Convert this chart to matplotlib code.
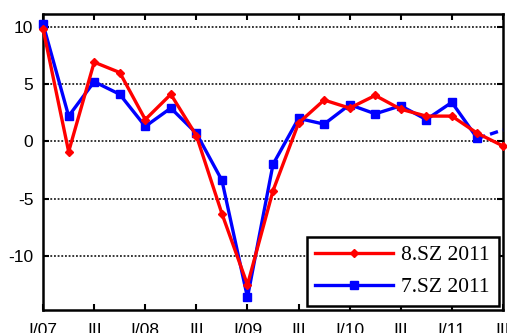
import matplotlib
matplotlib.use("Agg")
import matplotlib.pyplot as plt

plt.rcParams["axes.unicode_minus"] = False

# quarterly values, I/07 .. III/11
kwartaly = list(range(19))
sz8 = [9.8, -0.9, 6.9, 6.0, 1.9, 4.1, 0.5, -6.3, -12.5, -4.3, 1.6, 3.6, 2.9, 4.0, 2.8, 2.2, 2.2, 0.7, -0.4]
sz7 = [10.2, 2.2, 5.2, 4.1, 1.3, 2.9, 0.7, -3.4, -13.6, -2.0, 2.0, 1.5, 3.2, 2.4, 3.1, 1.9, 3.4, 0.25]
sz7_prognoza = [0.25, 1.0]  # dashed part, II/11 -> III/11

etykiety = ["I/07", "III", "I/08", "III", "I/09", "III", "I/10", "III", "I/11", "III"]

fig = plt.figure(figsize=(5.07, 3.33), dpi=100)
ax = fig.add_axes([0.085, 0.069, 0.907, 0.889])

ax.plot(kwartaly[:len(sz7)], sz7, color="#0000ff", lw=2.4, marker="s", ms=6,
        clip_on=False, zorder=3, label="7.SZ 2011")
ax.plot(kwartaly[len(sz7) - 1:], sz7_prognoza, color="#0000ff", lw=2.4, ls=(0, (2.5, 1.5)),
        clip_on=False, zorder=3)
ax.plot(kwartaly, sz8, color="#ff0000", lw=2.4, marker="D", ms=4.5,
        clip_on=False, zorder=4, label="8.SZ 2011")

ax.set_xlim(0, 18)
ax.set_ylim(-14.7, 11.1)
ax.set_xticks(kwartaly[::2])
ax.set_xticklabels(etykiety)
ax.set_yticks([-10, -5, 0, 5, 10])
ax.yaxis.grid(True, color="black", ls=(0, (1.2, 1.2)), lw=1.1)

ax.tick_params(direction="in", top=True, right=True, length=4, width=1.5, labelsize=12.5, pad=7)
ax.tick_params(axis="x", pad=9)
for lab in ax.get_xticklabels() + ax.get_yticklabels():
    lab.set_family("Liberation Sans")
for s in ax.spines.values():
    s.set_linewidth(1.8)

h, l = ax.get_legend_handles_labels()
leg = ax.legend(h[::-1], l[::-1], loc="lower right", handlelength=3.6, handletextpad=0.4,
                fancybox=False, edgecolor="black", framealpha=1, borderaxespad=0.2,
                prop={"family": "Liberation Serif", "size": 15.5}, labelspacing=0.55)
leg.get_frame().set_linewidth(1.8)

fig.savefig("out.png", dpi=100)
